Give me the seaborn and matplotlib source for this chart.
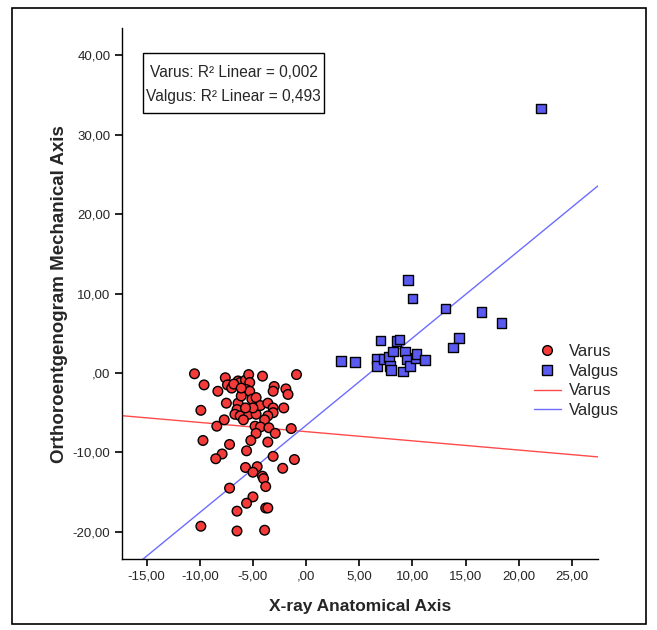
import numpy as np
import pandas as pd
import matplotlib
matplotlib.use('Agg')
import matplotlib.pyplot as plt
from matplotlib.lines import Line2D
from matplotlib.patches import Rectangle
from matplotlib.ticker import FuncFormatter
import seaborn as sns

# Varus group (x-ray anatomical axis, orthoroentgenogram mechanical axis)
varus_x = [-10.5, -9.6, -8.3, -7.6, -7.4, -7.0, -6.4, -6.2, -5.7, -5.4, -5.3, -5.9, -5.6,
           -5.3, -5.1, -4.7, -4.1, -3.0, -3.1, -1.9, -1.7, -0.9, -7.5, -6.4, -6.5, -6.7,
           -6.2, -5.4, -4.7, -4.3, -3.6, -3.1, -3.1, -3.6, -3.9, -2.1, -9.9, -7.7, -8.4,
           -5.9, -4.8, -4.3, -3.5, -2.9, -4.7, -5.2, -1.4, -9.7, -7.2, -5.6, -3.6, -7.9,
           -8.5, -3.1, -1.1, -5.7, -4.6, -5.0, -2.2, -4.1, -4.0, -3.8, -7.2, -5.0, -5.6,
           -6.5, -3.8, -3.6, -9.9, -6.5, -3.9, -6.1, -5.0, -5.7, -6.8, -6.1]
varus_y = [-0.1, -1.5, -2.3, -0.6, -1.5, -1.9, -1.0, -1.2, -0.9, -0.2, -1.2, -2.3, -2.1,
           -2.3, -3.3, -3.1, -0.4, -1.7, -2.3, -2.0, -2.7, -0.2, -3.8, -3.8, -4.6, -5.2,
           -5.4, -5.2, -5.2, -4.1, -3.8, -4.4, -5.0, -5.4, -5.9, -4.4, -4.7, -5.9, -6.7,
           -5.9, -6.7, -6.8, -6.9, -7.6, -7.6, -8.5, -7.0, -8.5, -9.0, -9.8, -8.7, -10.2,
           -10.8, -10.5, -10.9, -11.9, -11.8, -12.5, -12.0, -13.0, -13.3, -14.3, -14.5,
           -15.6, -16.4, -17.4, -17.0, -17.0, -19.3, -19.9, -19.8, -2.9, -4.4, -4.4,
           -1.4, -1.9]

# Valgus group
valgus_x = [9.6, 10.0, 13.1, 16.5, 18.4, 14.4, 13.8, 7.0, 8.5, 8.8, 3.3, 4.6, 6.7, 6.7,
            7.3, 7.8, 8.2, 7.9, 8.0, 9.1, 9.3, 9.5, 9.8, 10.3, 10.4, 11.2, 22.1]
valgus_y = [11.7, 9.4, 8.1, 7.7, 6.3, 4.4, 3.2, 4.1, 4.0, 4.2, 1.5, 1.4, 1.8, 0.9,
            1.8, 2.0, 2.7, 0.9, 0.4, 0.2, 2.7, 1.7, 0.9, 1.9, 2.4, 1.6, 33.3]

groups = ['Varus', 'Valgus']
r2_labels = ['Varus: R\u00b2 Linear = 0,002', 'Valgus: R\u00b2 Linear = 0,493']

df = pd.DataFrame({
    'xray': varus_x + valgus_x,
    'ortho': varus_y + valgus_y,
    'group': ['Varus'] * len(varus_x) + ['Valgus'] * len(valgus_x),
})

sns.set_style('white')
plt.rcParams['font.family'] = ['Liberation Sans', 'DejaVu Sans']

red_fill = '#f53a3a'
blue_fill = '#5a5af2'
red_line = '#ff4a4a'
blue_line = '#6c6cff'

fig = plt.figure(figsize=(6.57, 6.30), dpi=100)
ax = fig.add_axes([0.186, 0.113, 0.724, 0.842])
ax.set_xlim(-17.3, 27.45)
ax.set_ylim(-23.4, 43.4)

sns.scatterplot(data=df, x='xray', y='ortho', hue='group', style='group',
                hue_order=groups, style_order=groups,
                palette={'Varus': red_fill, 'Valgus': blue_fill},
                markers={'Varus': 'o', 'Valgus': 's'},
                s=48, edgecolor='black', linewidth=1.0, legend=False, ax=ax, zorder=3)

# fit lines over the full x range
for g, c in zip(groups, [red_line, blue_line]):
    sub = df[df.group == g]
    sns.regplot(data=sub, x='xray', y='ortho', scatter=False, ci=None, truncate=False,
                line_kws={'color': c, 'lw': 1.0}, ax=ax)

ax.set_xlim(-17.3, 27.45)
ax.set_ylim(-23.4, 43.4)

def comma_fmt(v, pos):
    s = f'{v:.2f}'.replace('.', ',')
    if s in ('0,00', '-0,00'):
        s = ',00'
    return s

ax.set_xticks(np.arange(-15, 26, 5))
ax.set_yticks(np.arange(-20, 41, 10))
ax.xaxis.set_major_formatter(FuncFormatter(comma_fmt))
ax.yaxis.set_major_formatter(FuncFormatter(comma_fmt))
ax.tick_params(axis='both', direction='out', length=5, width=1.2, color='black',
               labelsize=9.5, bottom=True, left=True)

for side in ['top', 'right']:
    ax.spines[side].set_visible(False)
for side in ['left', 'bottom']:
    ax.spines[side].set_color('black')
    ax.spines[side].set_linewidth(1.0)

ax.set_xlabel('X-ray Anatomical Axis', fontsize=12.5, fontweight='bold', labelpad=12)
ax.set_ylabel('Orthoroentgenogram Mechanical Axis', fontsize=13.5, fontweight='bold', labelpad=3)

# R2 box
ax.add_patch(Rectangle((0.043, 0.841), 0.381, 0.112, transform=ax.transAxes,
                       fill=True, fc='white', ec='black', lw=1.0, zorder=4))
ax.text(0.234, 0.916, r2_labels[0], transform=ax.transAxes, ha='center', va='center',
        fontsize=11.2, zorder=5)
ax.text(0.234, 0.872, r2_labels[1], transform=ax.transAxes, ha='center', va='center',
        fontsize=11.2, zorder=5)

handles = [
    Line2D([], [], marker='o', ls='', markerfacecolor=red_fill, markeredgecolor='black', markersize=7),
    Line2D([], [], marker='s', ls='', markerfacecolor=blue_fill, markeredgecolor='black', markersize=6.5),
    Line2D([], [], color=red_line, lw=1.0),
    Line2D([], [], color=blue_line, lw=1.0),
]
fig.legend(handles, groups + groups, loc='center left', bbox_to_anchor=(0.79, 0.395),
           frameon=False, fontsize=12, handlelength=1.6, handletextpad=0.5,
           labelspacing=0.28)

fig.patches.append(Rectangle((0.018, 0.010), 0.966, 0.978, transform=fig.transFigure,
                             fill=False, ec='black', lw=1.2))

fig.savefig('out.png', dpi=100)
